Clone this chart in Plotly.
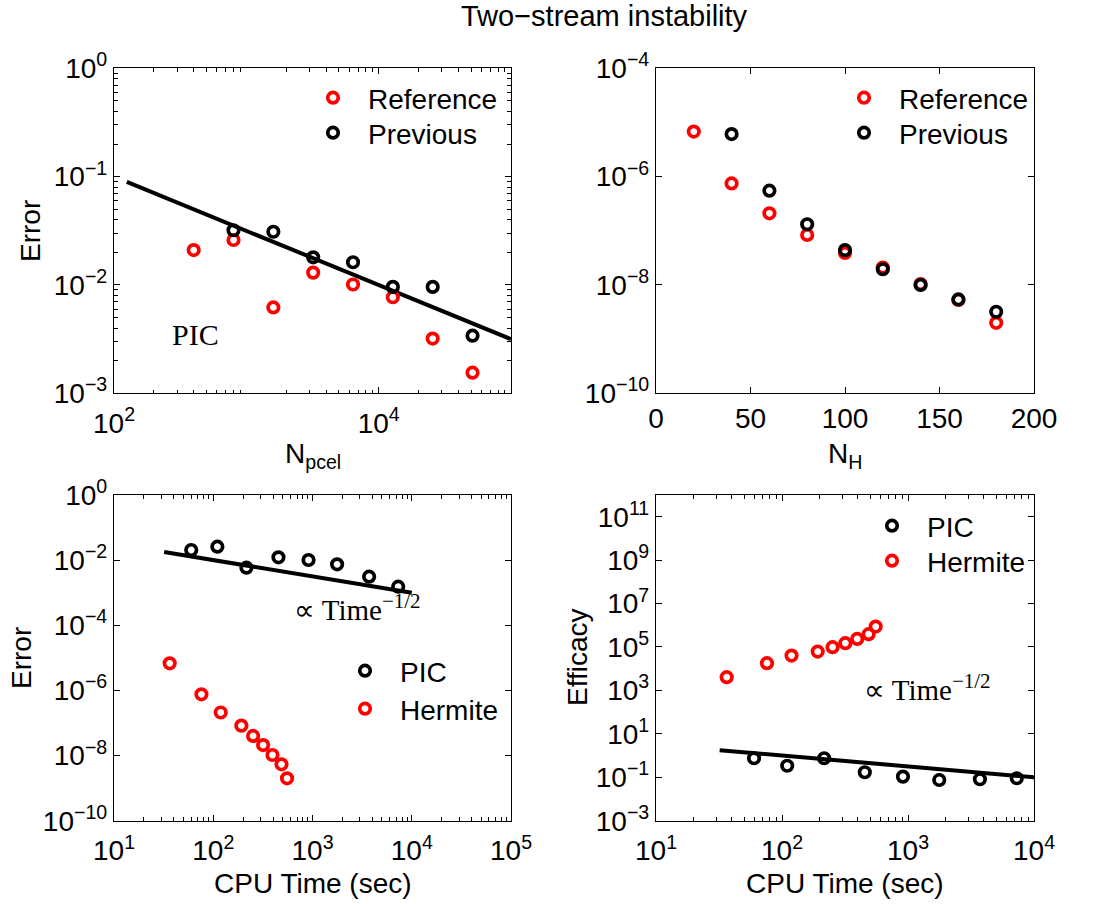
import plotly.graph_objects as go

# ---------------- data ----------------
npcel_ref = [400, 800, 1600, 3200, 6400, 12800, 25600, 51200]
err_ref_pic = [0.021, 0.026, 0.0062, 0.013, 0.0101, 0.0077, 0.0032, 0.00155]
npcel_prev = [800, 1600, 3200, 6400, 12800, 25600, 51200]
err_prev_pic = [0.032, 0.031, 0.018, 0.0162, 0.0096, 0.0096, 0.0034]
fit_npcel = [125, 100000]
fit_npcel_err = [0.0894, 0.00316]

nh_ref = [20, 40, 60, 80, 100, 120, 140, 160, 180]
err_ref_h = [6.8e-6, 7.5e-7, 2.1e-7, 8.4e-8, 3.9e-8, 2.1e-8, 1.04e-8, 5.3e-9, 2.0e-9]
nh_prev = [40, 60, 80, 100, 120, 140, 160, 180]
err_prev_h = [6.1e-6, 5.5e-7, 1.32e-7, 4.4e-8, 1.95e-8, 1.0e-8, 5.4e-9, 3.2e-9]

time_pic = [60, 110, 216, 454, 912, 1770, 3720, 7300]
err_pic = [0.0205, 0.0259, 0.00586, 0.0122, 0.0101, 0.00745, 0.0031, 0.00153]
time_herm = [36.4, 76, 119, 192, 252, 318, 395, 487, 554]
err_herm = [6.8e-6, 7.6e-7, 2.1e-7, 8.3e-8, 4.0e-8, 2.1e-8, 1.04e-8, 5.4e-9, 2.0e-9]
fit_time = [32, 10000]
fit_time_err = [0.0177, 0.001]

eff_pic = [0.75, 0.34, 0.75, 0.17, 0.107, 0.075, 0.081, 0.09]
eff_herm = [4060, 17900, 40200, 61400, 97800, 150000, 236000, 390000, 870000]
fit_time_eff = [1.77, 0.1]

# tick labels
tl_x_vals = [1e2, 1e4]
tl_x_text = ["10<sup>2</sup>", "10<sup>4</sup>"]
tl_y_vals = [1, 1e-1, 1e-2, 1e-3]
tl_y_text = ["10<sup>0</sup>", "10<sup>−1</sup>", "10<sup>−2</sup>", "10<sup>−3</sup>"]
tr_x_vals = [0, 50, 100, 150, 200]
tr_y_vals = [1e-4, 1e-6, 1e-8, 1e-10]
tr_y_text = ["10<sup>−4</sup>", "10<sup>−6</sup>", "10<sup>−8</sup>", "10<sup>−10</sup>"]
bl_x_vals = [1e1, 1e2, 1e3, 1e4, 1e5]
bl_x_text = ["10<sup>1</sup>", "10<sup>2</sup>", "10<sup>3</sup>", "10<sup>4</sup>", "10<sup>5</sup>"]
bl_y_vals = [1, 1e-2, 1e-4, 1e-6, 1e-8, 1e-10]
bl_y_text = ["10<sup>0</sup>", "10<sup>−2</sup>", "10<sup>−4</sup>", "10<sup>−6</sup>", "10<sup>−8</sup>", "10<sup>−10</sup>"]
br_x_vals = [1e1, 1e2, 1e3, 1e4]
br_x_text = ["10<sup>1</sup>", "10<sup>2</sup>", "10<sup>3</sup>", "10<sup>4</sup>"]
br_y_vals = [1e-3, 1e-1, 1e1, 1e3, 1e5, 1e7, 1e9, 1e11]
br_y_text = ["10<sup>−3</sup>", "10<sup>−1</sup>", "10<sup>1</sup>", "10<sup>3</sup>",
             "10<sup>5</sup>", "10<sup>7</sup>", "10<sup>9</sup>", "10<sup>11</sup>"]

# ---------------- layout helpers ----------------
W, H = 1106, 904
SANS = "Liberation Sans, Arial, sans-serif"
SERIF = "Liberation Serif, Times New Roman, serif"
FS = 28
RED = "#ff0000"
BLACK = "#000000"


def px_x(p):
    return p / W


def py_y(p):
    return 1 - p / H


def minor_log(lo, hi):
    return [m * 10 ** e for e in range(lo, hi) for m in range(2, 10)]


def mk(color):
    return dict(symbol="circle-open", size=10.5, color=color, line=dict(width=3.7, color=color))


fig = go.Figure()

# TL
fig.add_trace(go.Scatter(x=fit_npcel, y=fit_npcel_err, mode="lines", line=dict(color=BLACK, width=4),
                         showlegend=False, xaxis="x", yaxis="y"))
fig.add_trace(go.Scatter(x=npcel_ref, y=err_ref_pic, mode="markers", marker=mk(RED), name="Reference",
                         xaxis="x", yaxis="y", legend="legend"))
fig.add_trace(go.Scatter(x=npcel_prev, y=err_prev_pic, mode="markers", marker=mk(BLACK), name="Previous",
                         xaxis="x", yaxis="y", legend="legend2"))
# TR
fig.add_trace(go.Scatter(x=nh_ref, y=err_ref_h, mode="markers", marker=mk(RED), name="Reference",
                         xaxis="x2", yaxis="y2", legend="legend3"))
fig.add_trace(go.Scatter(x=nh_prev, y=err_prev_h, mode="markers", marker=mk(BLACK), name="Previous",
                         xaxis="x2", yaxis="y2", legend="legend4"))
# BL
fig.add_trace(go.Scatter(x=fit_time, y=fit_time_err, mode="lines", line=dict(color=BLACK, width=4),
                         showlegend=False, xaxis="x3", yaxis="y3"))
fig.add_trace(go.Scatter(x=time_pic, y=err_pic, mode="markers", marker=mk(BLACK), name="PIC",
                         xaxis="x3", yaxis="y3", legend="legend5"))
fig.add_trace(go.Scatter(x=time_herm, y=err_herm, mode="markers", marker=mk(RED), name="Hermite",
                         xaxis="x3", yaxis="y3", legend="legend6"))
# BR
fig.add_trace(go.Scatter(x=fit_time, y=fit_time_eff, mode="lines", line=dict(color=BLACK, width=4),
                         showlegend=False, xaxis="x4", yaxis="y4"))
fig.add_trace(go.Scatter(x=time_pic, y=eff_pic, mode="markers", marker=mk(BLACK), name="PIC",
                         xaxis="x4", yaxis="y4", legend="legend7"))
fig.add_trace(go.Scatter(x=time_herm, y=eff_herm, mode="markers", marker=mk(RED), name="Hermite",
                         xaxis="x4", yaxis="y4", legend="legend8"))

common = dict(showline=True, linecolor=BLACK, linewidth=1.3, mirror="ticks", ticks="inside",
              ticklen=6, tickwidth=1, tickcolor=BLACK, showgrid=False, zeroline=False,
              automargin=False,
              tickfont=dict(family=SANS, size=FS, color=BLACK), tickmode="array")

xL = [px_x(114), px_x(511)]
xR = [px_x(656), px_x(1034)]
yT = [py_y(393.3), py_y(68.3)]
yB = [py_y(820.7), py_y(495)]

minor_common = dict(ticks="inside", ticklen=3.5, tickcolor=BLACK, tickwidth=1)
XSTAND = 5

fig.update_layout(
    width=W, height=H, margin=dict(l=0, r=0, t=0, b=0, autoexpand=False),
    paper_bgcolor="white", plot_bgcolor="white",
    font=dict(family=SANS, size=FS, color=BLACK),
    xaxis=dict(common, type="log", range=[2, 5], domain=xL, anchor="y",
               tickvals=tl_x_vals, ticktext=tl_x_text, ticklabelstandoff=XSTAND,
               minor=dict(minor_common, tickvals=minor_log(2, 5))),
    yaxis=dict(common, type="log", range=[-3, 0], domain=yT, anchor="x",
               tickvals=tl_y_vals, ticktext=tl_y_text,
               minor=dict(minor_common, tickvals=minor_log(-3, 0))),
    xaxis2=dict(common, type="linear", range=[0, 200], domain=xR, anchor="y2",
                tickvals=tr_x_vals),
    yaxis2=dict(common, type="log", range=[-10, -4], domain=yT, anchor="x2",
                tickvals=tr_y_vals, ticktext=tr_y_text),
    xaxis3=dict(common, type="log", range=[1, 5], domain=xL, anchor="y3",
                tickvals=bl_x_vals, ticktext=bl_x_text, ticklabelstandoff=XSTAND,
                minor=dict(minor_common, tickvals=minor_log(1, 5))),
    yaxis3=dict(common, type="log", range=[-10, 0], domain=yB, anchor="x3",
                tickvals=bl_y_vals, ticktext=bl_y_text),
    xaxis4=dict(common, type="log", range=[1, 4], domain=xR, anchor="y4",
                tickvals=br_x_vals, ticktext=br_x_text, ticklabelstandoff=XSTAND,
                minor=dict(minor_common, tickvals=minor_log(1, 4))),
    yaxis4=dict(common, type="log", range=[-3, 12], domain=yB, anchor="x4",
                tickvals=br_y_vals, ticktext=br_y_text),
)

leg_common = dict(bgcolor="rgba(0,0,0,0)", borderwidth=0, font=dict(family=SANS, size=FS, color=BLACK),
                  xanchor="left", yanchor="top", itemwidth=60)
# legend box origin = marker centre minus fixed offsets (33 px x, 26 px y)
leg_pos = {
    "legend": (331, 99), "legend2": (331, 134),
    "legend3": (862, 99), "legend4": (862, 134),
    "legend5": (363, 672), "legend6": (363, 710),
    "legend7": (890, 527), "legend8": (890, 562),
}
fig.update_layout({k: dict(leg_common, x=px_x(v[0] - 33), y=py_y(v[1] - 26)) for k, v in leg_pos.items()})

PROP = "∝ Time<sup><span style='font-size:21px'>−1/2</span></sup>"
ann = [
    dict(text="Two−stream instability", x=px_x(604), y=py_y(16), font=dict(family=SANS, size=29)),
    dict(text="Error", x=px_x(31), y=py_y(231), textangle=-90, font=dict(family=SANS, size=FS)),
    dict(text="N<sub>pcel</sub>", x=px_x(313), y=py_y(455), font=dict(family=SANS, size=FS)),
    dict(text="N<sub>H</sub>", x=px_x(845), y=py_y(455), font=dict(family=SANS, size=FS)),
    dict(text="Error", x=px_x(21), y=py_y(658), textangle=-90, font=dict(family=SANS, size=FS)),
    dict(text="CPU Time (sec)", x=px_x(313), y=py_y(883), font=dict(family=SANS, size=FS)),
    dict(text="Efficacy", x=px_x(577), y=py_y(657), textangle=-90, font=dict(family=SANS, size=FS)),
    dict(text="CPU Time (sec)", x=px_x(845), y=py_y(883), font=dict(family=SANS, size=FS)),
    dict(text="PIC", x=px_x(170), y=py_y(334), xanchor="left", font=dict(family=SERIF, size=30)),
    dict(text=PROP, x=px_x(292), y=py_y(607), xanchor="left", font=dict(family=SERIF, size=29)),
    dict(text=PROP, x=px_x(862), y=py_y(687), xanchor="left", font=dict(family=SERIF, size=29)),
]
for a in ann:
    a.setdefault("xanchor", "center")
    a.setdefault("yanchor", "middle")
    a.update(xref="paper", yref="paper", showarrow=False)
fig.update_layout(annotations=ann)

fig.write_html("out.html")
